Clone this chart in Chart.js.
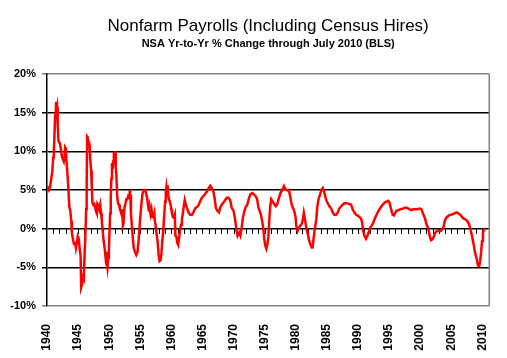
<!DOCTYPE html>
<html>
<head>
<meta charset="utf-8">
<script src="https://cdn.jsdelivr.net/npm/chart.js@4/dist/chart.umd.min.js"></script>
<style>
html,body{margin:0;padding:0;background:#fff;}
#c{display:block;}
</style>
</head>
<body>
<canvas id="c" width="507" height="358"></canvas>
<script>
const titleText = 'Nonfarm Payrolls (Including Census Hires)';
const subtitleText = 'NSA Yr-to-Yr % Change through July 2010 (BLS)';
const yTicks = [-10, -5, 0, 5, 10, 15, 20];
const xLabelYears = [1940,1945,1950,1955,1960,1965,1970,1975,1980,1985,1990,1995,2000,2005,2010];

const years = [
1940.0,1940.15,1940.3,1940.5,1940.7,1940.85,1941.0,1941.1,1941.2,1941.3,1941.4,1941.47,1941.55,1941.62,1941.72,1941.85,1941.95,
1942.1,1942.25,1942.4,1942.55,1942.7,1942.82,1942.92,1943.05,1943.15,1943.3,1943.45,1943.58,1943.75,1943.9,
1944.0,1944.2,1944.35,1944.5,1944.65,1944.8,1944.95,1945.1,1945.25,1945.4,1945.5,1945.65,1945.8,1945.92,
1946.05,1946.15,1946.3,1946.38,1946.46,1946.55,1946.65,1946.75,1946.85,1946.95,1947.1,1947.2,1947.3,1947.45,1947.6,1947.75,1947.9,
1948.0,1948.1,1948.25,1948.4,1948.55,1948.7,1948.8,1948.95,1949.1,1949.25,1949.4,1949.5,1949.6,1949.72,1949.85,1949.95,
1950.05,1950.15,1950.25,1950.35,1950.45,1950.55,1950.65,1950.75,1950.85,1950.95,1951.05,1951.15,1951.3,1951.45,1951.6,1951.7,1951.85,
1952.0,1952.1,1952.2,1952.3,1952.45,1952.6,1952.75,1952.9,1953.05,1953.2,1953.3,1953.4,1953.5,1953.65,1953.8,1953.95,
1954.15,1954.35,1954.55,1954.7,1954.85,1955.0,1955.2,1955.35,1955.55,1955.8,1955.95,1956.1,1956.25,1956.4,1956.5,1956.65,1956.8,1956.95,
1957.1,1957.25,1957.3,1957.45,1957.6,1957.8,1957.95,1958.1,1958.25,1958.4,1958.55,1958.7,1958.85,1959.0,1959.1,1959.2,1959.3,1959.4,1959.5,1959.6,1959.75,1959.9,
1960.0,1960.1,1960.25,1960.4,1960.55,1960.65,1960.8,1960.95,1961.1,1961.25,1961.4,1961.55,1961.7,1961.85,1962.0,1962.15,1962.3,1962.5,1962.75,
1963.0,1963.3,1963.55,1963.8,1964.1,1964.35,1964.6,1964.9,1965.15,1965.45,1965.7,1966.0,1966.25,1966.5,1966.75,1966.95,1967.15,1967.4,1967.65,1967.85,
1968.1,1968.4,1968.65,1968.9,1969.2,1969.45,1969.7,1970.0,1970.25,1970.45,1970.65,1970.9,1971.1,1971.3,1971.5,1971.75,1971.95,
1972.2,1972.5,1972.75,1973.05,1973.3,1973.55,1973.8,1974.0,1974.2,1974.4,1974.6,1974.8,1974.95,1975.1,1975.27,1975.45,1975.6,1975.75,1975.9,
1976.05,1976.3,1976.6,1976.8,1977.0,1977.3,1977.55,1977.85,1978.1,1978.35,1978.65,1978.9,1979.1,1979.35,1979.55,1979.75,1979.95,
1980.1,1980.3,1980.5,1980.75,1980.95,1981.15,1981.3,1981.45,1981.7,1981.95,1982.1,1982.35,1982.55,1982.7,1982.85,1983.05,1983.3,1983.45,1983.65,1983.9,
1984.1,1984.35,1984.55,1984.8,1985.0,1985.2,1985.4,1985.7,1985.95,1986.2,1986.5,1986.75,1987.0,1987.3,1987.55,1987.8,1988.1,1988.6,1988.9,
1989.15,1989.45,1989.7,1989.95,1990.25,1990.5,1990.67,1990.85,1991.05,1991.3,1991.5,1991.72,1991.95,1992.2,1992.5,1992.75,
1993.0,1993.3,1993.55,1993.8,1994.1,1994.35,1994.6,1994.88,1995.05,1995.25,1995.4,1995.57,1995.8,1996.0,1996.2,1996.5,1996.75,
1997.0,1997.3,1997.55,1997.85,1998.1,1998.35,1998.65,1998.9,1999.2,1999.45,1999.7,1999.97,2000.23,2000.4,2000.6,2000.8,
2001.0,2001.25,2001.45,2001.6,2001.77,2001.98,2002.2,2002.45,2002.65,2003.05,2003.3,2003.55,2003.8,2003.97,2004.2,2004.45,2004.7,
2005.0,2005.25,2005.5,2005.83,2006.05,2006.27,2006.47,2006.75,2007.0,2007.28,2007.55,2007.8,2008.0,2008.15,2008.3,2008.45,2008.6,2008.78,2008.95,
2009.1,2009.25,2009.38,2009.52,2009.65,2009.8,2009.95,2010.1,2010.25,2010.45
];

const pctChange = [
5.5,5.3,5.0,5.4,6.6,7.3,9.2,10.0,12.0,14.6,15.0,16.4,15.5,15.8,13.5,11.3,11.2,
11.0,11.0,9.3,9.0,8.7,9.4,10.5,10.3,8.5,7.0,5.0,2.9,2.3,1.0,
-0.5,-1.5,-2.0,-1.7,-2.5,-1.8,-1.0,-1.3,-2.6,-3.5,-7.6,-7.2,-6.3,-6.5,
-3.2,-1.3,2.5,6.0,11.9,11.8,10.7,11.3,10.8,9.0,7.5,5.5,3.4,3.1,3.2,2.7,2.2,
2.0,3.2,3.0,2.5,3.1,2.0,1.2,-0.3,-1.5,-2.4,-3.6,-3.0,-4.2,-5.0,-3.8,-2.8,
-0.5,2.0,4.0,6.5,8.5,7.7,8.7,9.9,9.5,10.0,8.0,7.0,4.0,3.2,3.1,2.6,2.2,
1.8,2.5,0.4,0.6,2.7,3.2,3.8,3.8,4.2,4.0,5.0,4.3,2.0,0.3,-1.2,-2.5,
-3.0,-3.4,-3.0,-1.8,-0.2,1.5,3.3,4.5,5.0,5.0,4.5,4.0,3.0,2.2,2.8,1.9,2.5,1.5,
1.5,2.0,1.2,0.5,-0.5,-1.8,-3.4,-4.2,-4.1,-3.2,-1.5,-0.2,1.8,3.5,4.8,5.4,4.6,5.6,4.2,3.8,3.5,3.0,
2.5,2.0,1.5,1.4,1.8,-0.9,-1.0,-1.8,-2.1,-1.2,-0.2,0.5,1.2,2.0,2.9,3.7,3.2,2.7,2.1,
1.8,1.8,2.1,2.6,2.8,3.0,3.5,4.0,4.2,4.5,4.8,5.25,5.55,5.25,4.8,4.0,2.7,2.3,2.1,2.7,
3.1,3.4,3.7,4.0,4.0,3.7,2.7,2.3,1.2,-0.1,-0.9,-0.5,-0.9,0.1,1.4,2.3,2.8,
3.1,4.0,4.5,4.6,4.4,4.2,3.8,2.7,2.3,1.8,1.0,-0.1,-1.4,-2.2,-2.6,-2.0,-1.0,1.2,2.9,
3.8,3.5,3.1,2.9,3.1,4.0,4.6,5.0,5.5,5.1,4.95,5.0,4.2,3.1,2.7,2.3,1.6,
0.3,-0.3,0.1,0.4,0.6,1.2,2.05,1.4,0.1,-0.7,-1.4,-2.0,-2.45,-2.45,-1.4,-0.1,1.2,2.7,3.8,4.4,
4.95,5.25,4.8,4.0,3.5,3.2,2.9,2.6,2.1,1.8,1.8,2.1,2.6,2.9,3.1,3.3,3.3,3.2,3.1,
2.5,2.05,1.8,1.7,1.5,1.3,0.8,-0.3,-0.95,-1.3,-0.95,-0.5,0.1,0.4,0.8,1.4,
1.8,2.3,2.6,2.9,3.2,3.4,3.5,3.6,3.4,2.8,2.3,1.8,1.7,2.05,2.3,2.4,2.5,
2.55,2.6,2.7,2.7,2.6,2.5,2.4,2.5,2.5,2.5,2.55,2.6,2.5,2.05,1.7,1.3,
0.6,0.15,-0.5,-1.15,-1.5,-1.4,-1.0,-0.5,-0.3,-0.3,-0.3,-0.1,0.3,1.0,1.4,1.6,1.75,
1.8,1.9,1.95,2.1,2.05,1.9,1.8,1.5,1.3,1.2,1.0,0.7,0.25,-0.3,-0.75,-1.4,-2.0,-2.9,-3.5,
-3.9,-4.6,-4.85,-4.8,-4.2,-3.1,-1.6,-0.6,-0.1,-0.05
];

const xMin = 1940, xMax = 2011.12;
const FONT = "'Liberation Sans', Arial, Helvetica, sans-serif";

const points = years.map((yr, i) => ({x: yr, y: pctChange[i]}));

// frame on the right and yearly tick marks hanging from the 0% line, placed via the scales
const axisDecor = {
  id: 'axisDecor',
  beforeDatasetsDraw(chart) {
    const a = chart.chartArea, ctx = chart.ctx;
    const xs = chart.scales.x, ys = chart.scales.y;
    ctx.save();
    ctx.strokeStyle = '#808080';
    ctx.lineWidth = 1.5;
    ctx.beginPath();
    ctx.moveTo(a.right, a.top);
    ctx.lineTo(a.right, a.bottom);
    ctx.stroke();
    const y0 = Math.round(ys.getPixelForValue(0));
    ctx.strokeStyle = '#000';
    ctx.lineWidth = 1;
    ctx.beginPath();
    xs.ticks.forEach(t => {
      const px = Math.round(xs.getPixelForValue(t.value)) + 0.5;
      if (px < a.left + 1 || px > a.right - 1) return;
      ctx.moveTo(px, y0);
      ctx.lineTo(px, y0 + 5);
    });
    ctx.stroke();
    ctx.restore();
  }
};

new Chart(document.getElementById('c'), {
  type: 'line',
  data: {
    datasets: [{
      data: points,
      borderColor: '#ff0000',
      borderWidth: 2.5,
      pointRadius: 0,
      tension: 0,
      fill: false
    }]
  },
  plugins: [axisDecor],
  options: {
    responsive: false,
    animation: false,
    events: [],
    layout: { padding: { left: 9, right: 17, top: 0, bottom: 0 } },
    plugins: {
      legend: { display: false },
      tooltip: { enabled: false },
      title: {
        display: true, text: titleText, fullSize: false, color: '#000',
        font: { family: FONT, size: 17, weight: 'normal', lineHeight: 1.2 },
        padding: { top: 16, bottom: 1 }
      },
      subtitle: {
        display: true, text: subtitleText, fullSize: false, color: '#000',
        font: { family: FONT, size: 11, weight: 'bold', lineHeight: 1.2 },
        padding: { top: 0, bottom: 23.4 }
      }
    },
    scales: {
      x: {
        type: 'linear', position: { y: 0 }, min: xMin, max: xMax,
        ticks: { display: false, stepSize: 1, includeBounds: false, autoSkip: false },
        grid: { display: false },
        border: { display: false }
      },
      x2: {
        type: 'linear', position: 'bottom', min: xMin, max: xMax,
        afterBuildTicks: (s) => { s.ticks = xLabelYears.map(v => ({ value: v })); },
        afterFit: (s) => { s.height = 52; },
        ticks: {
          autoSkip: false, maxRotation: 90, minRotation: 90, padding: 10,
          color: '#000', font: { family: FONT, size: 12, weight: 'bold' },
          callback: (v) => String(v)
        },
        grid: { display: false },
        border: { display: false }
      },
      y: {
        type: 'linear', position: 'left', min: -10, max: 20,
        afterBuildTicks: (s) => { s.ticks = yTicks.map(v => ({ value: v })); },
        afterFit: (s) => { s.width = 38; },
        ticks: {
          padding: 6, color: '#000', font: { family: FONT, size: 11, weight: 'bold' },
          callback: (v) => v + '%'
        },
        grid: {
          color: (c) => (c.tick && (c.tick.value === 20 || c.tick.value === -10)) ? '#808080' : '#000',
          lineWidth: 1.5, tickLength: 5, drawTicks: true
        },
        border: { display: true, color: '#000', width: 1.5 }
      }
    }
  }
});
</script>
</body>
</html>
